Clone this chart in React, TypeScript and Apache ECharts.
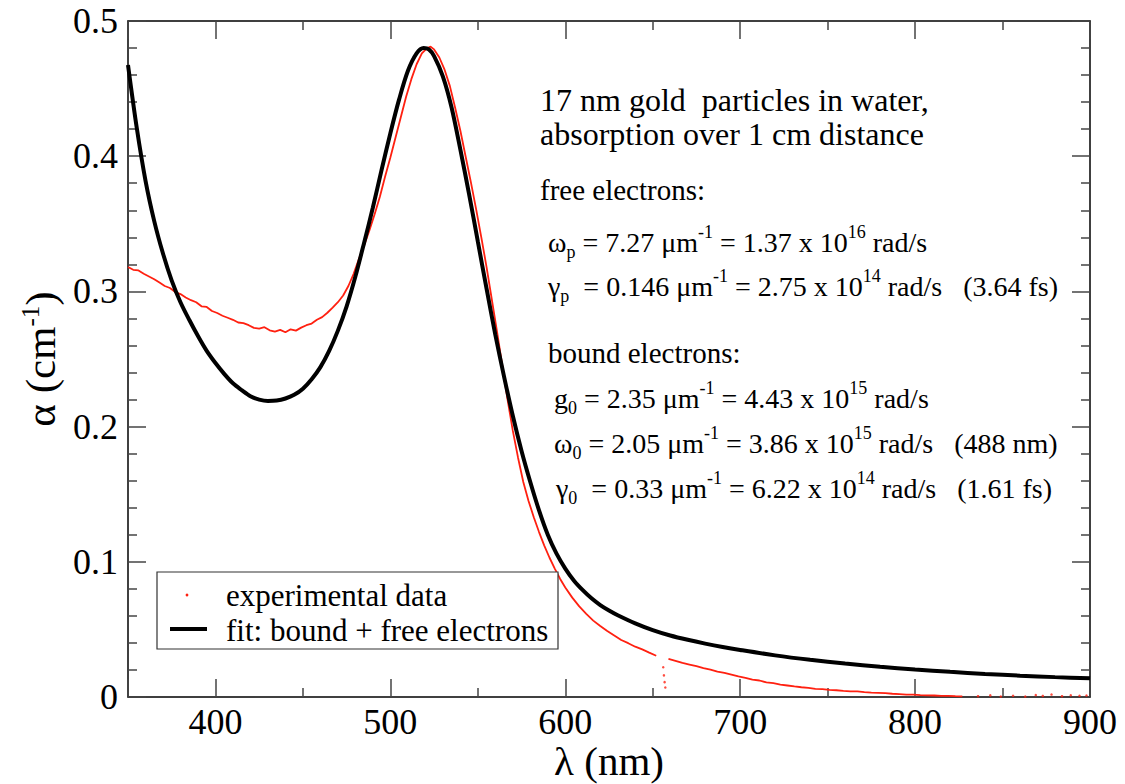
import React, { useEffect, useRef } from "react";
import * as echarts from "echarts";

// x: wavelength (nm), y: absorption alpha (cm^-1)
const fitX = [350, 355, 360, 365, 370, 375, 380, 385, 390, 395, 400, 405, 410, 415, 420, 425, 430, 435, 440, 445, 450, 455, 460, 465, 470, 475, 480, 485, 490, 495, 500, 505, 510, 515, 519, 522, 525, 530, 535, 540, 545, 550, 555, 560, 565, 570, 575, 580, 585, 590, 595, 600, 605, 610, 615, 620, 625, 630, 640, 650, 660, 670, 680, 690, 700, 720, 740, 760, 780, 800, 820, 840, 860, 880, 900];
const fitY = [0.4675, 0.421, 0.382, 0.352, 0.328, 0.308, 0.292, 0.279, 0.267, 0.256, 0.247, 0.239, 0.232, 0.227, 0.2225, 0.22, 0.219, 0.2193, 0.2208, 0.2235, 0.228, 0.235, 0.244, 0.256, 0.271, 0.289, 0.311, 0.336, 0.362, 0.39, 0.417, 0.442, 0.463, 0.476, 0.48, 0.479, 0.474, 0.459, 0.436, 0.405, 0.372, 0.337, 0.302, 0.268, 0.237, 0.208, 0.182, 0.159, 0.138, 0.12, 0.106, 0.095, 0.086, 0.079, 0.073, 0.068, 0.064, 0.0605, 0.0545, 0.0495, 0.0455, 0.0423, 0.0395, 0.037, 0.0348, 0.0308, 0.0275, 0.0247, 0.0223, 0.0203, 0.0186, 0.0171, 0.0158, 0.0147, 0.0138];

const expX = [350, 353, 356, 359, 362, 365, 368, 371, 374, 377, 380, 383, 386, 389, 392, 395, 398, 401, 404, 407, 410, 413, 416, 419, 422, 425, 428, 431, 434, 437, 440, 443, 446, 449, 452, 455, 458, 461, 464, 467, 470, 473, 476, 479, 482, 485, 488, 491, 494, 497, 500, 503, 506, 509, 512, 515, 518, 521, 523, 525, 528, 531, 534, 537, 540, 543, 546, 549, 552, 555, 558, 561, 564, 567, 570, 573, 576, 579, 582, 585, 588, 591, 594, 597, 600, 604, 608, 612, 616, 620, 624, 628, 632, 636, 640, 644, 648, 652, 655, 659, 663, 667, 671, 675, 679, 683, 687, 691, 695, 699, 703, 707, 711, 715, 719, 723, 727, 731, 735, 739, 743, 747, 751, 755, 759, 763, 767, 771, 775, 779, 783, 787, 791, 795, 799, 803, 807, 811, 815, 819, 823, 827, 831];
const expY = [0.318, 0.316, 0.3155, 0.313, 0.311, 0.309, 0.3065, 0.304, 0.3025, 0.2995, 0.298, 0.2955, 0.2935, 0.292, 0.289, 0.2885, 0.2855, 0.284, 0.282, 0.2805, 0.279, 0.277, 0.2765, 0.275, 0.273, 0.2725, 0.2735, 0.2712, 0.2702, 0.2715, 0.2698, 0.272, 0.271, 0.2732, 0.275, 0.2762, 0.279, 0.281, 0.2842, 0.288, 0.292, 0.297, 0.304, 0.313, 0.324, 0.334, 0.345, 0.357, 0.37, 0.385, 0.399, 0.414, 0.429, 0.444, 0.457, 0.468, 0.476, 0.48, 0.481, 0.479, 0.473, 0.464, 0.452, 0.436, 0.419, 0.4, 0.381, 0.361, 0.34, 0.318, 0.294, 0.27, 0.245, 0.22, 0.197, 0.177, 0.159, 0.145, 0.133, 0.122, 0.112, 0.103, 0.095, 0.0875, 0.081, 0.0735, 0.067, 0.0615, 0.0565, 0.0525, 0.0488, 0.0455, 0.0422, 0.0398, 0.0372, 0.0352, 0.0328, 0.0305, null, 0.0282, 0.0268, 0.0252, 0.024, 0.0228, 0.0214, 0.0202, 0.0188, 0.0178, 0.0165, 0.0152, 0.0142, 0.0128, 0.0122, 0.0108, 0.0102, 0.0092, 0.0085, 0.0078, 0.0072, 0.0068, 0.006, 0.0058, 0.0052, 0.005, 0.0045, 0.0042, 0.0041, 0.0036, 0.0032, 0.003, 0.0028, 0.0024, 0.0022, 0.0018, 0.0017, 0.0014, 0.0012, 0.0011, 0.0009, 0.0008, 0.0006, 0.0005];
// scattered single points (656 nm dip and noisy tail)
const dotX = [656, 656.4, 656.8, 657.2, 836, 843, 849, 856, 863, 869, 873, 878, 884, 889, 894, 898];
const dotY = [0.022, 0.016, 0.011, 0.007, 0.0006, 0.0012, 0.0004, 0.0009, 0.0003, 0.0014, 0.0008, 0.0018, 0.0006, 0.0013, 0.0009, 0.0011];

const xTickLabels = ["400", "500", "600", "700", "800", "900"];

const legendNames = ["experimental data", "fit: bound + free electrons"];
const noteTitle = ["17 nm gold  particles in water,", "absorption over 1 cm distance"];
const freeHead = "free electrons:";
const boundHead = "bound electrons:";
const paramLines = [
  "{t|ω}{sub|p}{t| = 7.27 μm}{sup|-1}{t| = 1.37 x 10}{sup|16}{t| rad/s}",
  "{t|γ}{sub|p}{t|  = 0.146 μm}{sup|-1}{t| = 2.75 x 10}{sup|14}{t| rad/s   (3.64 fs)}",
  "{t|g}{sub|0}{t| = 2.35 μm}{sup|-1}{t| = 4.43 x 10}{sup|15}{t| rad/s}",
  "{t|ω}{sub|0}{t| = 2.05 μm}{sup|-1}{t| = 3.86 x 10}{sup|15}{t| rad/s   (488 nm)}",
  "{t|γ}{sub|0}{t|  = 0.33 μm}{sup|-1}{t| = 6.22 x 10}{sup|14}{t| rad/s   (1.61 fs)}",
];

const SERIF = "'Liberation Serif', 'Times New Roman', serif";
const RED = "#ff2010";

export default function App() {
  const ref = useRef<HTMLDivElement>(null);
  useEffect(() => {
    if (!ref.current) return;
    const chart = echarts.init(ref.current, undefined, { renderer: "svg" });
    const fitData = fitX.map((x, i) => [x, fitY[i]]);
    const expData = expX.map((x, i) => [x, expY[i]]);
    const dotData = dotX.map((x, i) => [x, dotY[i]]);

    const richStyles = {
      t: { fontFamily: SERIF, fontSize: 28, lineHeight: 38, fill: "#000", verticalAlign: "middle" },
      sup: { fontFamily: SERIF, fontSize: 18, lineHeight: 14, fill: "#000", verticalAlign: "top" },
      sub: { fontFamily: SERIF, fontSize: 18, lineHeight: 14, fill: "#000", verticalAlign: "bottom" },
    };
    const paramPos = [
      [548, 242],
      [548, 286],
      [554, 398],
      [554, 443],
      [556, 488],
    ];

    const tickCommon = {
      axisLine: { show: true, onZero: false, lineStyle: { color: "#000", width: 1.5 } },
      axisTick: { show: true, inside: true, length: 18, lineStyle: { color: "#444", width: 1.5 } },
      splitLine: { show: false },
    };

    const axisLabelX = {
      fontFamily: SERIF,
      fontSize: 36,
      lineHeight: 34,
      color: "#000",
      margin: 8,
      formatter: (v: number) => {
        const s = String(v);
        return xTickLabels.indexOf(s) >= 0 ? s : "";
      },
    };

    chart.setOption({
      animation: false,
      backgroundColor: "#fff",
      grid: { left: 128, right: 35, top: 21, bottom: 87, containLabel: false, outerBoundsMode: "none" },
      xAxis: [
        {
          type: "value",
          min: 350,
          max: 900,
          splitNumber: 5,
          position: "bottom",
          ...tickCommon,
          minorTick: { show: true, splitNumber: 2, length: 9, lineStyle: { color: "#444", width: 1.5 } },
          axisLabel: axisLabelX,
          name: "λ (nm)",
          nameLocation: "middle",
          nameGap: 44,
          nameMoveOverlap: false,
          nameTextStyle: { fontFamily: SERIF, fontSize: 41, color: "#000", lineHeight: 40 },
        },
        {
          type: "value",
          min: 350,
          max: 900,
          splitNumber: 5,
          position: "top",
          ...tickCommon,
          minorTick: { show: true, splitNumber: 2, length: 9, lineStyle: { color: "#444", width: 1.5 } },
          axisLabel: { show: false },
        },
      ],
      yAxis: [
        {
          type: "value",
          min: 0,
          max: 0.5,
          interval: 0.1,
          position: "left",
          ...tickCommon,
          minorTick: { show: true, splitNumber: 5, length: 9, lineStyle: { color: "#444", width: 1.5 } },
          axisLabel: { fontFamily: SERIF, fontSize: 36, color: "#000", margin: 10 },
          name: "{a|α (cm}{s|-1}{a|)}",
          nameLocation: "middle",
          nameGap: 56,
          nameTextStyle: {
            rich: {
              a: { fontFamily: SERIF, fontSize: 43, color: "#000", lineHeight: 46, verticalAlign: "middle" },
              s: { fontFamily: SERIF, fontSize: 25, color: "#000", lineHeight: 22, verticalAlign: "top" },
            },
          },
        },
        {
          type: "value",
          min: 0,
          max: 0.5,
          interval: 0.1,
          position: "right",
          ...tickCommon,
          minorTick: { show: true, splitNumber: 5, length: 9, lineStyle: { color: "#444", width: 1.5 } },
          axisLabel: { show: false },
        },
      ],
      series: [
        {
          name: legendNames[0],
          type: "line",
          data: expData,
          showSymbol: false,
          connectNulls: false,
          lineStyle: { color: RED, width: 1.8 },
          z: 2,
        },
        {
          name: legendNames[0] + " ",
          type: "scatter",
          data: dotData,
          symbol: "circle",
          symbolSize: 2.5,
          itemStyle: { color: RED },
          z: 2,
        },
        {
          name: legendNames[1],
          type: "line",
          data: fitData,
          showSymbol: false,
          smooth: 0.3,
          lineStyle: { color: "#000", width: 4 },
          z: 3,
        },
      ],
      graphic: [
        {
          type: "rect",
          shape: { x: 157, y: 572, width: 401, height: 77 },
          style: { fill: "#fff", stroke: "#333", lineWidth: 1.2 },
          z: 10,
        },
        { type: "circle", shape: { cx: 187, cy: 595, r: 1.4 }, style: { fill: RED }, z: 11 },
        { type: "line", shape: { x1: 170, y1: 629, x2: 207, y2: 629 }, style: { stroke: "#000", lineWidth: 4 }, z: 11 },
        {
          type: "text",
          x: 226,
          y: 595,
          style: { text: legendNames[0], fontFamily: SERIF, fontSize: 31, fill: "#000", verticalAlign: "middle" },
          z: 11,
        },
        {
          type: "text",
          x: 226,
          y: 630,
          style: { text: legendNames[1], fontFamily: SERIF, fontSize: 31, fill: "#000", verticalAlign: "middle" },
          z: 11,
        },
        {
          type: "text",
          x: 540,
          y: 100,
          style: { text: noteTitle[0], fontFamily: SERIF, fontSize: 32, fill: "#000", verticalAlign: "middle" },
        },
        {
          type: "text",
          x: 540,
          y: 134,
          style: { text: noteTitle[1], fontFamily: SERIF, fontSize: 32, fill: "#000", verticalAlign: "middle" },
        },
        {
          type: "text",
          x: 540,
          y: 190,
          style: { text: freeHead, fontFamily: SERIF, fontSize: 29, fill: "#000", verticalAlign: "middle" },
        },
        {
          type: "text",
          x: 548,
          y: 353,
          style: { text: boundHead, fontFamily: SERIF, fontSize: 29, fill: "#000", verticalAlign: "middle" },
        },
        ...paramLines.map((txt, i) => ({
          type: "text",
          x: paramPos[i][0],
          y: paramPos[i][1],
          style: { text: txt, rich: richStyles, verticalAlign: "middle", fill: "#000" },
        })),
      ],
    });
    return () => chart.dispose();
  }, []);
  return <div ref={ref} style={{ position: "fixed", left: 0, top: 0, width: 1125, height: 784 }} />;
}
